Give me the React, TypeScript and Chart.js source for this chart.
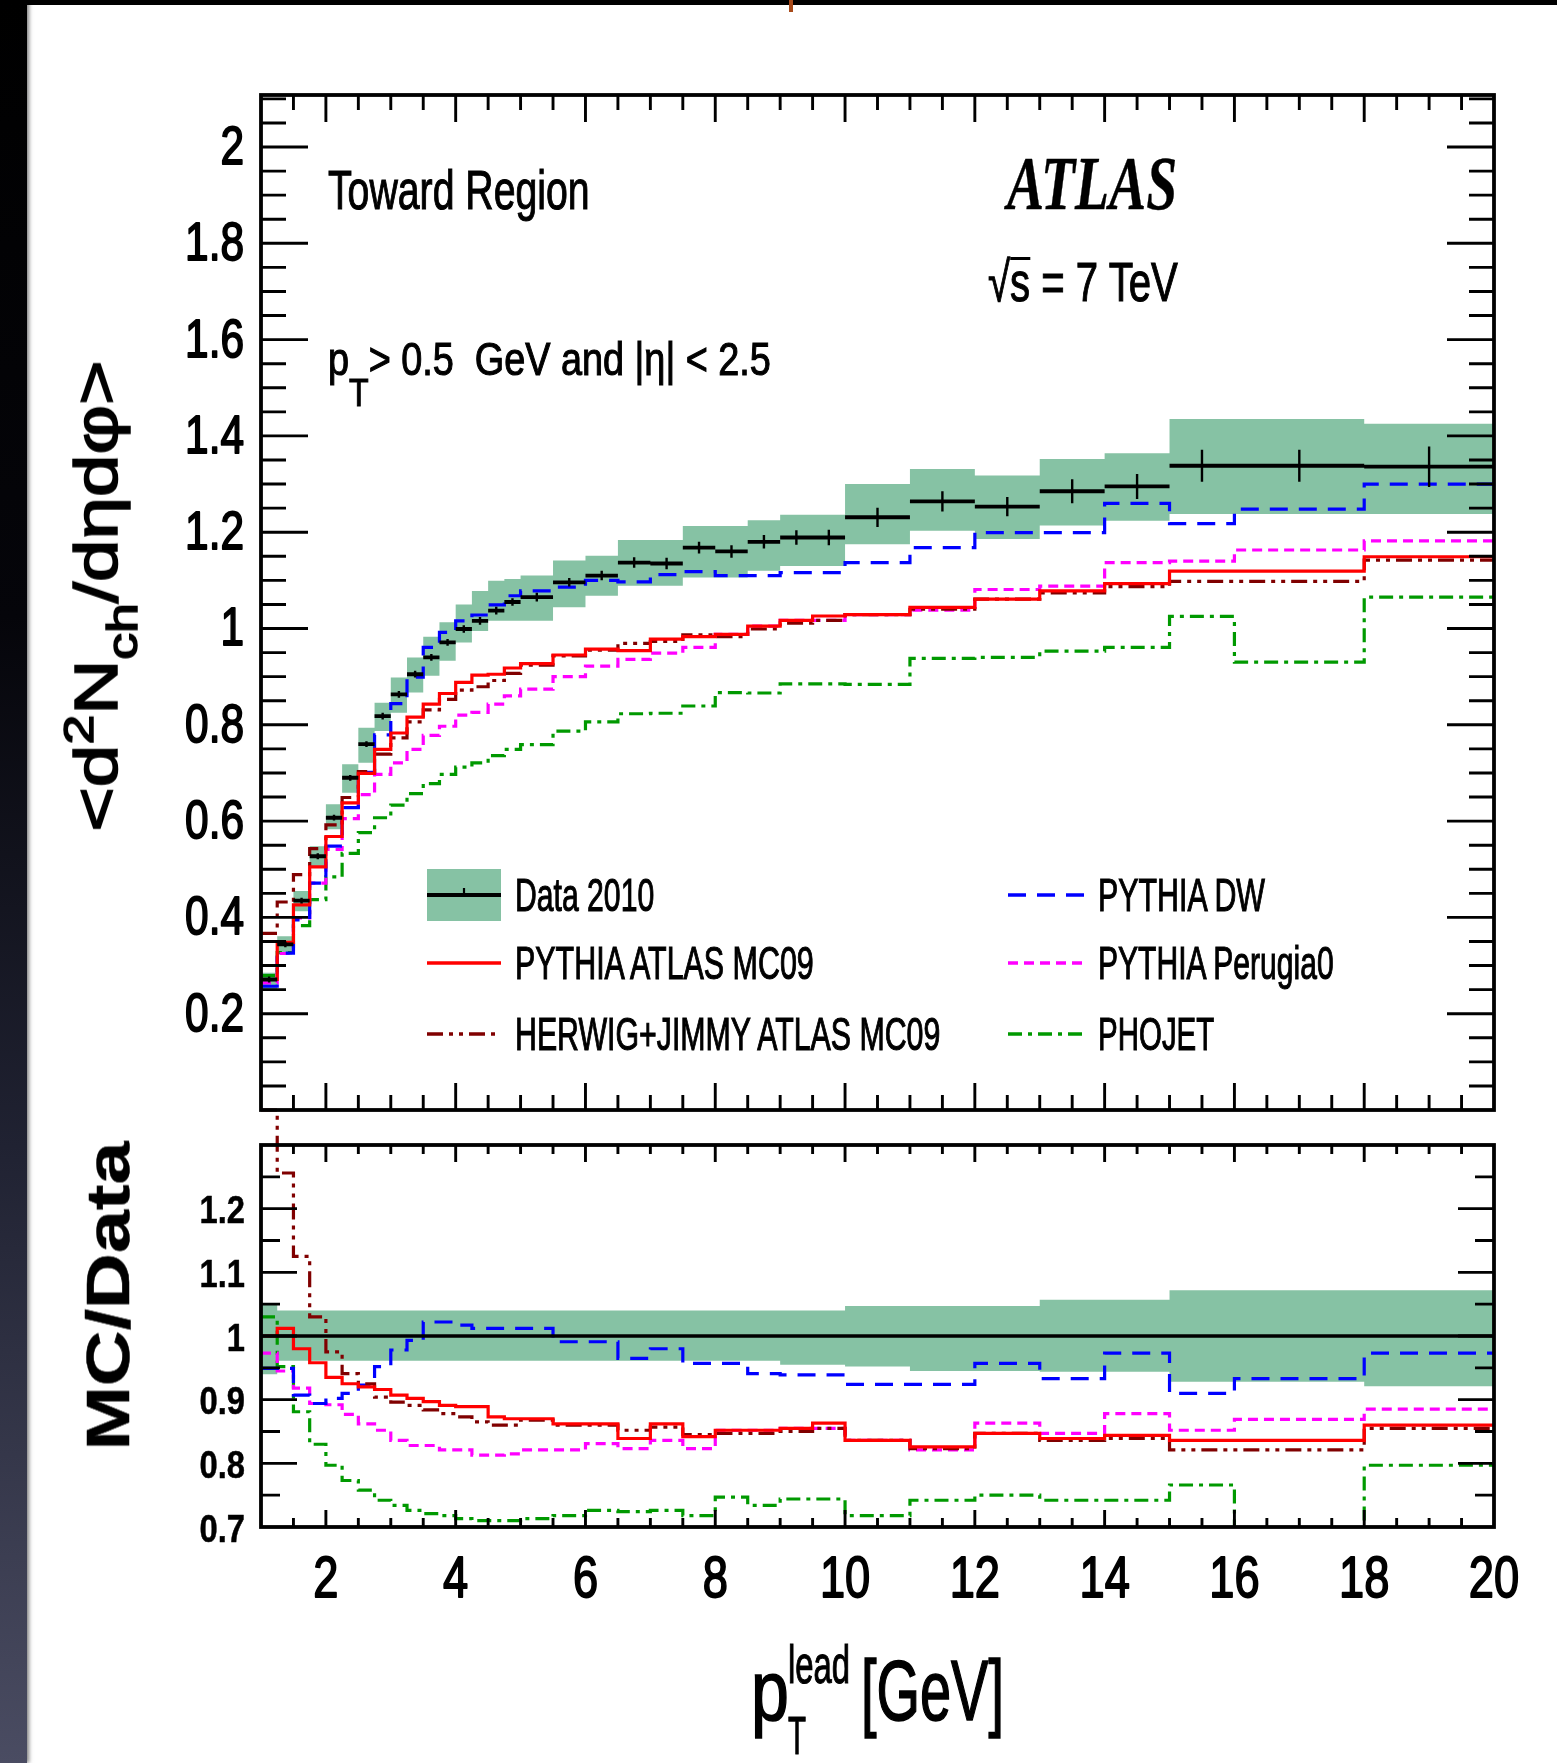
import React, { useEffect, useLayoutEffect, useRef, useState } from 'react';
import { Chart, registerables } from 'chart.js';

Chart.register(...registerables);

// ---------------- data ----------------
const binEdges = [1, 1.25, 1.5, 1.75, 2, 2.25, 2.5, 2.75, 3, 3.25, 3.5, 3.75, 4, 4.25, 4.5, 4.75, 5, 5.5, 6, 6.5, 7, 7.5, 8, 8.5, 9, 9.5, 10, 11, 12, 13, 14, 15, 16, 18, 20];

const dataDensity = [0.271, 0.344, 0.435, 0.527, 0.607, 0.690, 0.760, 0.818, 0.863, 0.905, 0.940, 0.971, 0.999, 1.016, 1.037, 1.055, 1.065, 1.096, 1.110, 1.137, 1.135, 1.168, 1.160, 1.180, 1.189, 1.189, 1.231, 1.264, 1.253, 1.285, 1.295, 1.338, 1.338, 1.336];
const dataStatErr = [0.006, 0.006, 0.006, 0.006, 0.006, 0.006, 0.006, 0.007, 0.007, 0.007, 0.007, 0.007, 0.008, 0.008, 0.008, 0.008, 0.009, 0.009, 0.010, 0.011, 0.012, 0.012, 0.013, 0.014, 0.015, 0.016, 0.020, 0.021, 0.020, 0.025, 0.026, 0.033, 0.033, 0.042];
const dataSystHigh = [0.285, 0.361, 0.455, 0.548, 0.635, 0.718, 0.794, 0.846, 0.898, 0.940, 0.983, 1.013, 1.050, 1.078, 1.099, 1.103, 1.110, 1.141, 1.151, 1.184, 1.184, 1.213, 1.213, 1.225, 1.236, 1.236, 1.300, 1.331, 1.318, 1.352, 1.364, 1.435, 1.435, 1.425];
const dataSystLow = [0.250, 0.326, 0.413, 0.507, 0.583, 0.659, 0.721, 0.787, 0.825, 0.867, 0.902, 0.933, 0.971, 0.995, 1.016, 1.016, 1.016, 1.044, 1.068, 1.089, 1.089, 1.106, 1.106, 1.120, 1.130, 1.130, 1.175, 1.203, 1.186, 1.214, 1.224, 1.238, 1.238, 1.238];

const pythiaMC09 = [0.271, 0.348, 0.426, 0.505, 0.568, 0.638, 0.699, 0.749, 0.783, 0.816, 0.843, 0.865, 0.888, 0.903, 0.905, 0.918, 0.927, 0.945, 0.957, 0.954, 0.978, 0.983, 0.988, 1.005, 1.017, 1.026, 1.029, 1.044, 1.061, 1.078, 1.093, 1.119, 1.119, 1.149];
const herwigMC09 = [0.367, 0.432, 0.489, 0.543, 0.592, 0.649, 0.703, 0.739, 0.773, 0.806, 0.831, 0.853, 0.872, 0.879, 0.892, 0.907, 0.924, 0.943, 0.955, 0.969, 0.973, 0.987, 0.983, 0.999, 1.011, 1.017, 1.029, 1.040, 1.061, 1.074, 1.087, 1.098, 1.098, 1.142];
const pythiaDW = [0.257, 0.326, 0.395, 0.471, 0.548, 0.628, 0.701, 0.779, 0.844, 0.899, 0.961, 0.992, 1.016, 1.028, 1.049, 1.068, 1.078, 1.086, 1.100, 1.097, 1.112, 1.118, 1.110, 1.110, 1.116, 1.116, 1.137, 1.168, 1.199, 1.199, 1.260, 1.218, 1.248, 1.300];
const pythiaPerugia0 = [0.264, 0.325, 0.399, 0.471, 0.541, 0.605, 0.655, 0.697, 0.721, 0.749, 0.778, 0.797, 0.820, 0.826, 0.843, 0.860, 0.874, 0.900, 0.922, 0.936, 0.949, 0.961, 0.988, 1.005, 1.017, 1.017, 1.029, 1.038, 1.081, 1.088, 1.137, 1.140, 1.163, 1.182];
const phojet = [0.279, 0.327, 0.383, 0.437, 0.484, 0.533, 0.576, 0.607, 0.633, 0.657, 0.678, 0.697, 0.712, 0.721, 0.736, 0.749, 0.759, 0.787, 0.806, 0.823, 0.824, 0.839, 0.867, 0.866, 0.885, 0.885, 0.884, 0.938, 0.940, 0.953, 0.961, 1.025, 0.930, 1.065];

const ratioSystHigh = [1.050, 1.040, 1.040, 1.040, 1.040, 1.040, 1.040, 1.040, 1.040, 1.040, 1.040, 1.040, 1.040, 1.040, 1.040, 1.040, 1.040, 1.040, 1.040, 1.040, 1.040, 1.040, 1.040, 1.040, 1.040, 1.040, 1.047, 1.047, 1.047, 1.057, 1.057, 1.072, 1.072, 1.072];
const ratioSystLow = [0.940, 0.961, 0.961, 0.961, 0.961, 0.961, 0.961, 0.961, 0.961, 0.961, 0.961, 0.961, 0.961, 0.961, 0.961, 0.961, 0.961, 0.961, 0.961, 0.961, 0.961, 0.961, 0.961, 0.961, 0.955, 0.955, 0.952, 0.945, 0.945, 0.944, 0.944, 0.928, 0.928, 0.921];
const ratioData = [1, 1, 1, 1, 1, 1, 1, 1, 1, 1, 1, 1, 1, 1, 1, 1, 1, 1, 1, 1, 1, 1, 1, 1, 1, 1, 1, 1, 1, 1, 1, 1, 1, 1];
const ratioPythiaMC09 = [1.000, 1.012, 0.980, 0.958, 0.935, 0.925, 0.920, 0.916, 0.907, 0.902, 0.897, 0.891, 0.889, 0.889, 0.873, 0.870, 0.870, 0.862, 0.862, 0.839, 0.862, 0.842, 0.852, 0.852, 0.855, 0.863, 0.836, 0.826, 0.847, 0.839, 0.844, 0.836, 0.836, 0.860];
const ratioHerwigMC09 = [1.355, 1.256, 1.125, 1.030, 0.975, 0.941, 0.925, 0.904, 0.896, 0.891, 0.884, 0.878, 0.873, 0.865, 0.860, 0.860, 0.868, 0.860, 0.860, 0.852, 0.857, 0.845, 0.847, 0.847, 0.850, 0.855, 0.836, 0.823, 0.847, 0.836, 0.839, 0.821, 0.821, 0.855];
const ratioPythiaDW = [0.949, 0.949, 0.907, 0.894, 0.902, 0.910, 0.923, 0.952, 0.978, 0.993, 1.022, 1.022, 1.017, 1.012, 1.012, 1.012, 1.012, 0.991, 0.991, 0.965, 0.980, 0.957, 0.957, 0.941, 0.939, 0.939, 0.924, 0.924, 0.957, 0.933, 0.973, 0.910, 0.933, 0.973];
const ratioPerugia0 = [0.973, 0.945, 0.918, 0.894, 0.892, 0.877, 0.862, 0.852, 0.836, 0.828, 0.828, 0.821, 0.821, 0.813, 0.813, 0.815, 0.821, 0.821, 0.831, 0.823, 0.836, 0.823, 0.852, 0.852, 0.855, 0.855, 0.836, 0.821, 0.863, 0.847, 0.878, 0.852, 0.869, 0.885];
const ratioPhojet = [1.030, 0.952, 0.881, 0.830, 0.797, 0.773, 0.758, 0.742, 0.734, 0.726, 0.721, 0.718, 0.713, 0.710, 0.710, 0.710, 0.713, 0.718, 0.726, 0.724, 0.726, 0.718, 0.747, 0.734, 0.744, 0.744, 0.718, 0.742, 0.750, 0.742, 0.742, 0.766, 0.695, 0.797];

const xTickLabels = ['2', '4', '6', '8', '10', '12', '14', '16', '18', '20'];
const topYTickLabels = ['0.2', '0.4', '0.6', '0.8', '1', '1.2', '1.4', '1.6', '1.8', '2'];
const ratioYTickLabels = ['0.7', '0.8', '0.9', '1', '1.1', '1.2'];

const seriesNames = ['Data 2010', 'PYTHIA ATLAS MC09', 'HERWIG+JIMMY ATLAS MC09', 'PYTHIA DW', 'PYTHIA Perugia0', 'PHOJET'];

// ---------------- styles ----------------
const SANS = '"Liberation Sans", Arial, Helvetica, sans-serif';
const SERIF = '"Liberation Serif", "Times New Roman", Times, serif';
const BAND = '#86c2a4';
const C_MC09 = '#ff0000';
const C_HERWIG = '#800000';
const C_DW = '#0000ff';
const C_PER = '#ff00ff';
const C_PHO = '#009900';
const D_HERWIG = [16, 6, 4, 6, 4, 6];
const D_DW = [18, 11];
const D_PER = [10, 6];
const D_PHO = [14, 6, 4, 6];
const TEXT_STROKE = 1.1;

// ---------------- helpers ----------------
const stepPoints = (vals: number[]) =>
  binEdges.map((e, i) => ({ x: e, y: vals[Math.min(i, vals.length - 1)] }));

const segPoints = (vals: number[]) => {
  const pts: any[] = [];
  vals.forEach((v, i) => {
    pts.push({ x: binEdges[i], y: v }, { x: binEdges[i + 1], y: v }, { x: binEdges[i + 1], y: null });
  });
  return pts;
};

const errPoints = (vals: number[], errs: number[]) => {
  const pts: any[] = [];
  vals.forEach((v, i) => {
    const c = (binEdges[i] + binEdges[i + 1]) / 2;
    pts.push({ x: c, y: v - errs[i] }, { x: c, y: v + errs[i] }, { x: c, y: null });
  });
  return pts;
};

const mcLine = (vals: number[], color: string, dash: number[], order: number, extra: any = {}) => ({
  data: stepPoints(vals),
  stepped: true,
  borderColor: color,
  borderWidth: 3.2,
  borderDash: dash,
  fill: false,
  pointRadius: 0,
  order,
  ...extra,
});

const bandSets = (hi: number[], lo: number[]) => [
  { data: stepPoints(hi), stepped: true, borderColor: 'rgba(0,0,0,0)', borderWidth: 0, backgroundColor: BAND, fill: '+1', pointRadius: 0, order: 20 },
  { data: stepPoints(lo), stepped: true, borderColor: 'rgba(0,0,0,0)', borderWidth: 0, fill: false, pointRadius: 0, order: 21 },
];

function makeTicks(from: number, to: number, step: number, majorStep: number) {
  const out: { v: number; major: boolean }[] = [];
  const n = Math.round((to - from) / step);
  for (let i = 0; i <= n; i++) {
    const v = +(from + i * step).toFixed(6);
    const r = v / majorStep;
    out.push({ v, major: Math.abs(r - Math.round(r)) < 1e-6 });
  }
  return out;
}

function boldText(ctx: CanvasRenderingContext2D, s: string, w: number) {
  ctx.fillText(s, 0, 0);
  if (w > 0) {
    ctx.lineWidth = w;
    ctx.strokeText(s, 0, 0);
  }
}

function axesPlugin(cfg: any) {
  return {
    id: 'rootAxes' + cfg.name,
    afterDatasetsDraw(chart: any) {
      const { ctx, chartArea: a } = chart;
      const xs = chart.scales.x;
      const ys = chart.scales.y;
      ctx.save();
      ctx.setLineDash([]);
      ctx.strokeStyle = '#000';
      ctx.fillStyle = '#000';
      ctx.lineCap = 'butt';
      ctx.lineWidth = 2.9;
      ctx.beginPath();
      for (const t of cfg.xTicks) {
        const px = xs.getPixelForValue(t.v);
        const L = t.major ? cfg.xLen[1] : cfg.xLen[0];
        ctx.moveTo(px, a.bottom);
        ctx.lineTo(px, a.bottom - L);
        ctx.moveTo(px, a.top);
        ctx.lineTo(px, a.top + L);
      }
      for (const t of cfg.yTicks) {
        const py = ys.getPixelForValue(t.v);
        const L = t.major ? cfg.yLen[1] : cfg.yLen[0];
        ctx.moveTo(a.left, py);
        ctx.lineTo(a.left + L, py);
        ctx.moveTo(a.right, py);
        ctx.lineTo(a.right - L, py);
      }
      ctx.stroke();
      ctx.lineWidth = 3.8;
      ctx.strokeRect(a.left, a.top, a.right - a.left, a.bottom - a.top);

      ctx.font = `${cfg.yLabelWeight || 'normal'} ${cfg.yLabelSize}px ${SANS}`;
      ctx.textAlign = 'right';
      ctx.textBaseline = 'alphabetic';
      ctx.lineJoin = 'round';
      for (const lab of cfg.yLabels) {
        const py = ys.getPixelForValue(Number(lab));
        ctx.save();
        ctx.translate(cfg.yLabelRight, py + cfg.yLabelSize * 0.358 + cfg.yLabelDy);
        ctx.scale(cfg.yLabelScale, 1);
        boldText(ctx, lab, cfg.yLabelStroke);
        ctx.restore();
      }
      if (cfg.xLabels) {
        ctx.font = `${cfg.xLabelSize}px ${SANS}`;
        ctx.textAlign = 'center';
        for (const lab of cfg.xLabels) {
          const px = xs.getPixelForValue(Number(lab));
          ctx.save();
          ctx.translate(px, cfg.xLabelBaseline);
          ctx.scale(cfg.xLabelScale, 1);
          boldText(ctx, lab, 1.8);
          ctx.restore();
        }
      }
      if (cfg.legend) cfg.legend(ctx);
      ctx.restore();
    },
  };
}

function drawLegendSymbols(ctx: CanvasRenderingContext2D) {
  const L1 = 427, R1 = 501, L2 = 1008, R2 = 1085;
  const rows = [895, 963, 1034];
  ctx.fillStyle = BAND;
  ctx.fillRect(L1, rows[0] - 26, R1 - L1, 52);
  const line = (x0: number, x1: number, y: number, color: string, dash: number[], w = 3.2) => {
    ctx.beginPath();
    ctx.setLineDash(dash);
    ctx.strokeStyle = color;
    ctx.lineWidth = w;
    ctx.moveTo(x0, y);
    ctx.lineTo(x1, y);
    ctx.stroke();
  };
  line(L1, R1, rows[0], '#000', [], 3.8);
  ctx.beginPath();
  ctx.setLineDash([]);
  ctx.lineWidth = 2.2;
  ctx.moveTo((L1 + R1) / 2, rows[0] - 7);
  ctx.lineTo((L1 + R1) / 2, rows[0] + 2);
  ctx.stroke();
  line(L1, R1, rows[1], C_MC09, [], 3.4);
  line(L1, R1, rows[2], C_HERWIG, D_HERWIG, 3.4);
  line(L2, R2, rows[0], C_DW, D_DW, 3.4);
  line(L2, R2, rows[1], C_PER, D_PER, 3.4);
  line(L2, R2, rows[2], C_PHO, D_PHO, 3.4);
  ctx.setLineDash([]);
}

const W = 1557;
const H = 1763;

const baseOptions = (padding: any, ymin: number, ymax: number) => ({
  animation: false,
  responsive: false,
  maintainAspectRatio: false,
  devicePixelRatio: 1,
  layout: { padding },
  events: [],
  scales: {
    x: { type: 'linear', min: 1, max: 20, display: false },
    y: { type: 'linear', min: ymin, max: ymax, display: false },
  },
  plugins: { legend: { display: false }, tooltip: { enabled: false }, title: { display: false } },
  elements: { point: { radius: 0 }, line: { tension: 0, borderJoinStyle: 'miter', borderCapStyle: 'butt' } },
});

function TopChart() {
  const ref = useRef<HTMLCanvasElement>(null);
  useEffect(() => {
    if (!ref.current) return;
    const chart = new Chart(ref.current, {
      type: 'line',
      data: {
        datasets: [
          ...bandSets(dataSystHigh, dataSystLow),
          mcLine(phojet, C_PHO, D_PHO, 9),
          mcLine(pythiaPerugia0, C_PER, D_PER, 8),
          mcLine(pythiaDW, C_DW, D_DW, 7),
          mcLine(herwigMC09, C_HERWIG, D_HERWIG, 6),
          mcLine(pythiaMC09, C_MC09, [], 5),
          { data: segPoints(dataDensity), borderColor: '#000', borderWidth: 3.8, pointRadius: 0, fill: false, spanGaps: false, order: 2 },
          { data: errPoints(dataDensity, dataStatErr), borderColor: '#000', borderWidth: 2.4, pointRadius: 0, fill: false, spanGaps: false, order: 1 },
        ] as any,
      },
      options: baseOptions({ left: 261, right: W - 1494, top: 95, bottom: H - 1110 }, 0, 2.108) as any,
      plugins: [
        axesPlugin({
          name: 'top',
          xTicks: makeTicks(1.5, 19.5, 0.5, 2),
          yTicks: makeTicks(0.05, 2.1, 0.05, 0.2),
          xLen: [15, 27],
          yLen: [25, 47],
          yLabels: topYTickLabels,
          yLabelSize: 53,
          yLabelScale: 0.8,
          yLabelRight: 244,
          yLabelDy: -2,
          yLabelStroke: 1.8,
          legend: drawLegendSymbols,
        }),
      ],
    });
    return () => chart.destroy();
  }, []);
  return <canvas ref={ref} width={W} height={H} style={{ position: 'absolute', left: 0, top: 0, width: W, height: H }} />;
}

function RatioChart() {
  const ref = useRef<HTMLCanvasElement>(null);
  useEffect(() => {
    if (!ref.current) return;
    const chart = new Chart(ref.current, {
      type: 'line',
      data: {
        datasets: [
          ...bandSets(ratioSystHigh, ratioSystLow),
          mcLine(ratioPhojet, C_PHO, D_PHO, 9),
          mcLine(ratioPerugia0, C_PER, D_PER, 8),
          mcLine(ratioPythiaDW, C_DW, D_DW, 7),
          mcLine(ratioHerwigMC09, C_HERWIG, D_HERWIG, 6, { clip: { left: 0, top: false, right: 0, bottom: 0 } }),
          mcLine(ratioPythiaMC09, C_MC09, [], 5),
          { data: stepPoints(ratioData), stepped: true, borderColor: '#000', borderWidth: 3.6, pointRadius: 0, fill: false, order: 2 },
        ] as any,
      },
      options: baseOptions({ left: 261, right: W - 1494, top: 1145, bottom: H - 1527 }, 0.7, 1.3) as any,
      plugins: [
        axesPlugin({
          name: 'ratio',
          xTicks: makeTicks(1.5, 19.5, 0.5, 2),
          yTicks: makeTicks(0.75, 1.25, 0.05, 0.1),
          xLen: [9, 17],
          yLen: [19, 36],
          yLabels: ratioYTickLabels,
          yLabelSize: 38,
          yLabelWeight: 'bold',
          yLabelScale: 0.86,
          yLabelRight: 245,
          yLabelDy: 1,
          yLabelStroke: 0.5,
          xLabels: xTickLabels,
          xLabelSize: 58,
          xLabelScale: 0.78,
          xLabelBaseline: 1597,
        }),
      ],
    });
    return () => chart.destroy();
  }, []);
  return <canvas ref={ref} width={W} height={H} style={{ position: 'absolute', left: 0, top: 0, width: W, height: H }} />;
}

// text fitted to a measured width (narrow Helvetica look)
function Txt(props: any) {
  const { x, y, w, size, family = SANS, weight = 400, italic = false, rotate = false, stroke = TEXT_STROKE, children } = props;
  const ref = useRef<HTMLSpanElement>(null);
  const [k, setK] = useState(1);
  useLayoutEffect(() => {
    if (ref.current) {
      const nat = ref.current.offsetWidth;
      if (nat > 0) setK(w / nat);
    }
  }, [w]);
  const base: any = {
    position: 'absolute',
    whiteSpace: 'pre',
    fontFamily: family,
    fontSize: size,
    fontWeight: weight,
    fontStyle: italic ? 'italic' : 'normal',
    lineHeight: 1,
    color: '#000',
    WebkitTextStroke: `${stroke}px #000`,
  };
  if (rotate) {
    return (
      <div style={{ position: 'absolute', left: x, top: y, width: 0, height: 0, transform: 'rotate(-90deg)' }}>
        <span ref={ref} style={{ ...base, left: 0, top: 0, transform: `translate(-50%, -50%) scaleX(${k})` }}>{children}</span>
      </div>
    );
  }
  return (
    <span ref={ref} style={{ ...base, left: x, top: y - 0.85 * size, transformOrigin: '0 0', transform: `scaleX(${k})` }}>
      {children}
    </span>
  );
}

const Sup = ({ children, s = 0.7, dy = -0.55 }: any) => (
  <span style={{ fontSize: `${s}em`, position: 'relative', top: `${dy}em` }}>{children}</span>
);
const Sub = ({ children, s = 0.7, dy = 0.45 }: any) => (
  <span style={{ fontSize: `${s}em`, position: 'relative', top: `${dy}em` }}>{children}</span>
);

export default function App() {
  return (
    <div style={{ position: 'fixed', left: 0, top: 0, width: W, height: H, overflow: 'hidden', background: '#fff' }}>
      <div style={{ position: 'absolute', left: 0, top: 0, width: W, height: H, filter: 'blur(0.6px)' }}>
        <RatioChart />
        <TopChart />

        {/* annotations */}
        <Txt x={328} y={210} w={262} size={56}>Toward Region</Txt>
        <Txt x={328} y={375} w={443} size={46}>
          p<Sub s={0.85} dy={0.8}>T</Sub>{'> 0.5  GeV and |η| < 2.5'}
        </Txt>
        <Txt x={1007} y={210} w={170} size={76} family={SERIF} weight={700} italic stroke={0.4}>ATLAS</Txt>
        <Txt x={988} y={302} w={190} size={56}>
          √
          <span style={{ display: 'inline-block', borderTop: '3px solid #000', lineHeight: 0.78, paddingTop: 0 }}>s</span>
          {' = 7 TeV'}
        </Txt>

        {/* legend text */}
        <Txt x={515} y={911} w={139} size={46}>{seriesNames[0]}</Txt>
        <Txt x={515} y={979} w={299} size={46}>{seriesNames[1]}</Txt>
        <Txt x={515} y={1050} w={425} size={46}>{seriesNames[2]}</Txt>
        <Txt x={1098} y={911} w={167} size={46}>{seriesNames[3]}</Txt>
        <Txt x={1098} y={979} w={236} size={46}>{seriesNames[4]}</Txt>
        <Txt x={1098} y={1050} w={116} size={46}>{seriesNames[5]}</Txt>

        {/* axis titles */}
        <Txt x={96} y={596} w={472} size={62} stroke={1.6} rotate>
          {'<d'}<Sup>2</Sup>N<Sub>ch</Sub>{'/dηdφ>'}
        </Txt>
        <Txt x={108} y={1296} w={309} size={62} weight={700} stroke={0.5} rotate>MC/Data</Txt>
        <Txt x={751} y={1720} w={38} size={86} stroke={1.6}>p</Txt>
        <Txt x={788} y={1683} w={62} size={53}>lead</Txt>
        <Txt x={788} y={1754} w={18} size={54}>T</Txt>
        <Txt x={861} y={1720} w={143} size={86} stroke={1.6}>[GeV]</Txt>
      </div>

      <div style={{ position: 'absolute', left: 0, top: 0, width: W, height: 5, background: '#000' }} />
      <div
        style={{
          position: 'absolute', left: 0, top: 0, width: 27, height: H,
          background: 'linear-gradient(to bottom, #000 0%, #05050a 35%, #202232 65%, #4a4c62 100%)',
          boxShadow: '2px 0 4px rgba(0,0,0,0.5)',
        }}
      />
      <div style={{ position: 'absolute', left: 789, top: 0, width: 4, height: 12, background: '#a84a1a' }} />
    </div>
  );
}
